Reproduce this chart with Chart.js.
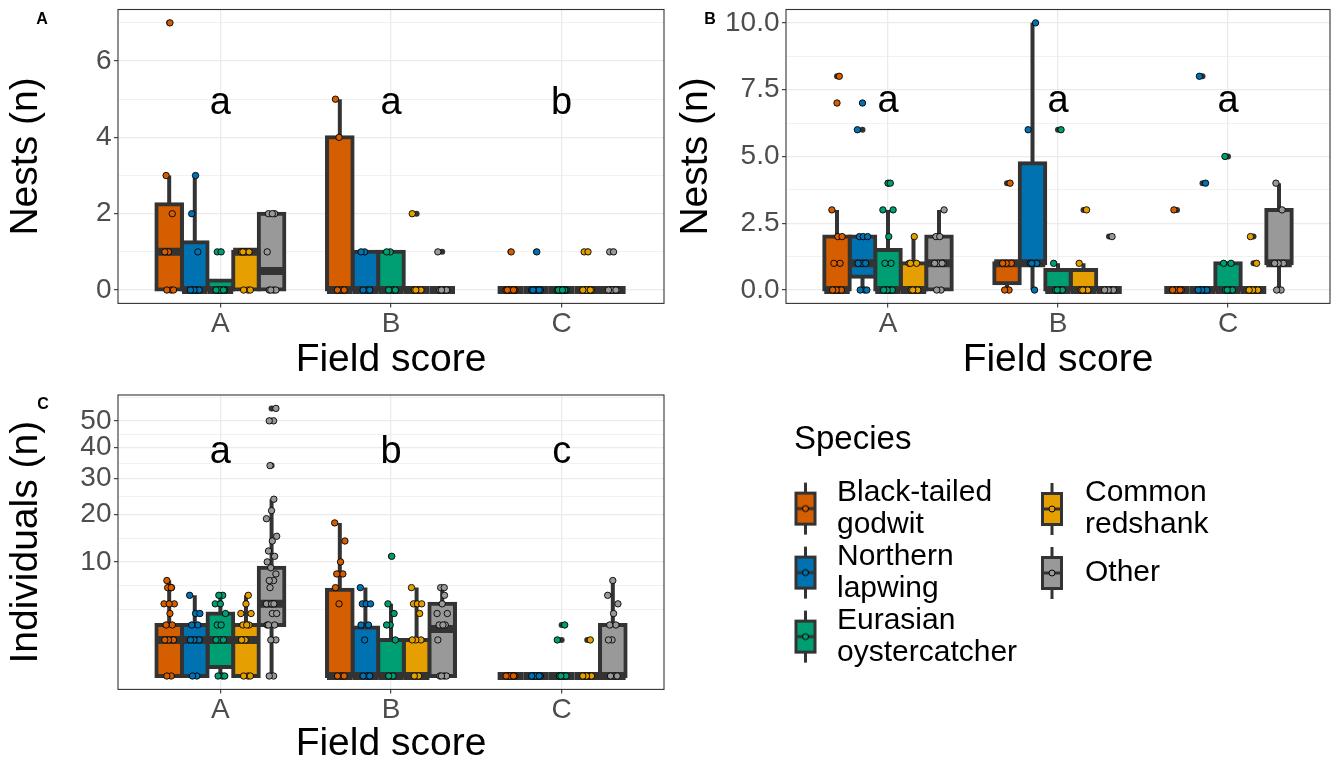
<!DOCTYPE html>
<html><head><meta charset="utf-8">
<script src="https://cdn.jsdelivr.net/npm/chart.js@4.4.1/dist/chart.umd.min.js"></script>
<style>
html,body{margin:0;padding:0;background:#fff;overflow:hidden;width:1338px;height:764px;position:relative;}
canvas{position:absolute;}
</style></head><body>
<canvas id="pA" style="left:0;top:0" width="670" height="380"></canvas>
<canvas id="pB" style="left:670px;top:0" width="668" height="380"></canvas>
<canvas id="pC" style="left:0;top:380px" width="670" height="384"></canvas>
<canvas id="lg1" style="left:794px;top:423px" width="560" height="262"></canvas>
<canvas id="lg2" style="left:1026px;top:462px" width="560" height="220"></canvas>
<script>
// ---------------- categories ----------------
const FIELDS = ['A', 'B', 'C'];
const SPECIES = ['Black-tailed godwit', 'Northern lapwing', 'Eurasian oystercatcher', 'Common redshank', 'Other'];
const COLORS = ['#D55E00', '#0072B2', '#009E73', '#E69F00', '#999999'];

// ---------------- Panel A: Nests (n) ----------------
// observed values per field score (A, B, C)
const nestsAGodwit   = [[0,0,0,1,1,2,3,7], [0,0,0,4,5], [0,0,0,0,0,0,0,1]];
const nestsALapwing  = [[0,0,0,0,0,1,2,3], [0,0,0,1,1], [0,0,0,0,0,0,0,1]];
const nestsAOyster   = [[0,0,0,0,0,0,1,1], [0,0,0,1,1], [0,0,0,0,0,0,0,0]];
const nestsARedshank = [[0,0,0,1,1,1,1], [0,0,0,0,2], [0,0,0,0,0,0,1,1]];
const nestsAOther    = [[0,0,0,0,1,2,2,2], [0,0,0,0,1], [0,0,0,0,0,0,1,1]];
// box statistics [lower whisker, Q1, median, Q3, upper whisker]
const nestsAGodwitBox   = [[0,0,1,2.25,3], [0,0,0,4,5], [0,0,0,0,0]];
const nestsALapwingBox  = [[0,0,0,1.25,3], [0,0,0,1,1], [0,0,0,0,0]];
const nestsAOysterBox   = [[0,0,0,0.25,0.25], [0,0,0,1,1], [0,0,0,0,0]];
const nestsARedshankBox = [[0,0,1,1,1], [0,0,0,0,0], [0,0,0,0,0]];
const nestsAOtherBox    = [[0,0,0.5,2,2], [0,0,0,0,0], [0,0,0,0,0]];
const nestsABreaks = [0, 2, 4, 6];
const nestsALetters = ['a', 'a', 'b'];

// ---------------- Panel B: Nests (n) ----------------
const nestsBGodwit   = [[0,0,0,0,0,1,1,2,2,3,7,8], [0,0,1,1,1,4], [0,0,0,0,0,0,3]];
const nestsBLapwing  = [[0,0,0,1,1,1,2,2,2,6,7], [0,1,1,1,6,10], [0,0,0,0,0,4,8]];
const nestsBOyster   = [[0,0,0,0,0,1,1,2,3,3,4,4], [0,0,0,0,1,6], [0,0,0,0,1,1,5]];
const nestsBRedshank = [[0,0,0,0,1,1,1,2], [0,0,0,0,1,3], [0,0,0,0,0,1,2]];
const nestsBOther    = [[0,0,1,1,1,1,2,2,3], [0,0,0,0,0,2], [0,0,1,1,1,3,4]];
const nestsBGodwitBox   = [[0,0,0,2,3], [0,0.25,1,1,1], [0,0,0,0,0]];
const nestsBLapwingBox  = [[0,0.5,1,2,2], [0,1,1,4.75,10], [0,0,0,0,0]];
const nestsBOysterBox   = [[0,0,0,1.5,3], [0,0,0,0.75,1], [0,0,0,1,1]];
const nestsBRedshankBox = [[0,0,0,1,2], [0,0,0,0.75,1], [0,0,0,0,0]];
const nestsBOtherBox    = [[0,0,1,2,3], [0,0,0,0,0], [0,1,1,3,4]];
const nestsBBreaks = [0, 2.5, 5, 7.5, 10];
const nestsBLetters = ['a', 'a', 'a'];

// ---------------- Panel C: Individuals (n), square-root axis ----------------
const indGodwit   = [[0,0,1,1,1,2,2,3,4,4,4,6,6,6,7], [0,0,0,4,6,8,8,10,14,18], [0,0,0,0,0,0]];
const indLapwing  = [[0,0,1,1,1,2,2,3,3,5], [0,0,0,1,2,2,4,4,4,6], [0,0,0,0,0,0]];
const indOyster   = [[0,0,0,1,1,1,2,2,3,4,4,5,5], [0,0,1,2,2,3,4,11], [0,0,0,0,1,2]];
const indRedshank = [[0,0,0,1,1,2,2,2,3,3,4,5], [0,0,1,1,1,3,4,4,4,6], [0,0,0,0,0,1]];
const indOther    = [[0,0,1,1,2,2,2,3,3,4,4,4,6,7,7,8,9,10,11,12,14,15,19,21,24,34,50,50,55],
                     [0,0,0,0,1,2,2,2,3,3,4,5,6,6], [0,0,0,1,1,2,2,3,4,5,7]];
const indGodwitBox   = [[0,0,1,2,7], [0,0,0,5.7,18], [0,0,0,0,0]];
const indLapwingBox  = [[0,0,1,2,5], [0,0,0,1.8,6], [0,0,0,0,0]];
const indOysterBox   = [[0,0.0625,1,3,5], [0,0,0,1,4], [0,0,0,0,0]];
const indRedshankBox = [[0,0,1,2,5], [0,0,0,1,6], [0,0,0,0,0]];
const indOtherBox    = [[0,2,4,9,24], [0,0,1.7,4,6], [0,0,0,2,7]];
const indBreaks = [10, 20, 30, 40, 50];
const indLetters = ['a', 'b', 'c'];

// ---------------- layout constants ----------------
const FONT = "'Liberation Sans', Arial, Helvetica, sans-serif";
Chart.defaults.font.family = FONT;
const DODGE = [-0.3, -0.15, 0, 0.15, 0.3];
const BOXW = 0.15;
const JIT = [0.08, -0.09, 0.17, -0.03, -0.17, 0.12, -0.12, 0.03, 0.2, -0.2, 0.0, 0.09, -0.06];

// square-root transformed scale
const tSqrt = v => v < 0 ? -Math.sqrt(-v) : Math.sqrt(v);
const tSqrtInv = t => t < 0 ? -t * t : t * t;
class SqrtScale extends Chart.LinearScale {
  configure() {
    super.configure();
    this._t0 = tSqrt(this.min);
    this._tr = tSqrt(this.max) - this._t0;
  }
  getPixelForValue(v) {
    if (v === null || v === undefined || isNaN(v)) return NaN;
    return this.getPixelForDecimal((tSqrt(v) - this._t0) / this._tr);
  }
  getValueForPixel(p) {
    return tSqrtInv(this._t0 + this.getDecimalForPixel(p) * this._tr);
  }
}
SqrtScale.id = 'sqrt';
SqrtScale.defaults = Chart.LinearScale.defaults;
Chart.register(SqrtScale);

const panelDeco = {
  id: 'panelDeco',
  afterDatasetsDraw(chart, args, o) {
    const {ctx, chartArea: a, scales: {x, y}} = chart;
    ctx.save();
    ctx.fillStyle = '#000';
    ctx.textAlign = 'center';
    ctx.textBaseline = 'middle';
    ctx.font = '38px ' + FONT;
    o.letters.forEach((L, i) => ctx.fillText(L, x.getPixelForValue(i + 1), y.getPixelForValue(o.letterY)));
    ctx.strokeStyle = '#333333';
    ctx.lineWidth = 1.1;
    ctx.strokeRect(a.left, a.top, a.right - a.left, a.bottom - a.top);
    ctx.font = 'bold 16px ' + FONT;
    ctx.fillText(o.tag, o.tagX, o.tagY);
    ctx.restore();
  }
};

function buildPanel(id, P) {
  const t = P.sqrt ? tSqrt : (v => v);
  const tinv = P.sqrt ? tSqrtInv : (v => v);
  const all = P.points.flat(2);
  const dmin = Math.min(...all), dmax = Math.max(...all);
  const R = t(dmax) - t(dmin);
  const tMin = t(dmin) - 0.05 * R, tMax = t(dmax) + 0.05 * R;
  const yMin = tinv(tMin), yMax = tinv(tMax);
  // ggplot-style minor breaks (midpoints in transformed space)
  const bt = P.breaks.map(t);
  const bd = bt[1] - bt[0];
  const ext = bt.slice();
  if (tMin < bt[0]) ext.unshift(bt[0] - bd);
  if (tMax > bt[bt.length - 1]) ext.push(bt[bt.length - 1] + bd);
  const minorT = [];
  for (let i = 0; i < ext.length - 1; i++) minorT.push(ext[i], (ext[i] + ext[i + 1]) / 2);
  minorT.push(ext[ext.length - 1]);
  const minors = minorT.filter(m => m >= tMin && m <= tMax && !bt.some(b => Math.abs(b - m) < 1e-9)).map(tinv);
  const isMajor = v => P.breaks.some(b => Math.abs(b - v) < 1e-9);
  const yTicks = P.breaks.concat(minors).sort((a, b) => a - b);

  const datasets = [];
  const outl = [];
  SPECIES.forEach((name, s) => {
    const whisk = [], med = [], boxes = [], pts = [];
    P.boxes[s].forEach((b, f) => {
      const [lo, q1, m, q3, hi] = b;
      const cx = f + 1 + DODGE[s];
      if (hi > q3) whisk.push({x: cx, y: q3}, {x: cx, y: hi}, {x: cx, y: null});
      if (lo < q1) whisk.push({x: cx, y: q1}, {x: cx, y: lo}, {x: cx, y: null});
      med.push({x: cx - BOXW / 2, y: m}, {x: cx + BOXW / 2, y: m}, {x: cx, y: null});
      boxes.push({x: cx, y: [q1, q3]});
      P.points[s][f].forEach((v, i) => {
        pts.push({x: cx + JIT[i % JIT.length] * BOXW, y: v});
        if (v > hi || v < lo) outl.push({x: cx, y: v});
      });
    });
    datasets.push({type: 'line', label: name + ' whiskers', data: whisk, borderColor: '#333333', borderWidth: 4,
      pointRadius: 0, fill: false, spanGaps: false, tension: 0, borderCapStyle: 'butt', order: 5});
    datasets.push({type: 'bar', label: name, data: boxes, backgroundColor: COLORS[s], borderColor: '#333333',
      borderWidth: 4, borderSkipped: false, inflateAmount: 2, grouped: false, barPercentage: 1,
      categoryPercentage: 1, order: 4});
    datasets.push({type: 'line', label: name + ' median', data: med, borderColor: '#333333', borderWidth: 8,
      pointRadius: 0, fill: false, spanGaps: false, tension: 0, borderCapStyle: 'butt', order: 3});
    datasets.push({type: 'scatter', label: name + ' obs', data: pts, backgroundColor: COLORS[s],
      borderColor: '#000000', borderWidth: 0.9, pointRadius: 3.2, order: 1});
  });
  datasets.push({type: 'scatter', label: 'outliers', data: outl, backgroundColor: '#333333',
    borderColor: '#333333', borderWidth: 0, pointRadius: 3, order: 2});

  const zeroPad = s => { s.paddingTop = 0; s.paddingBottom = 0; s.paddingLeft = 0; s.paddingRight = 0; };
  const tickFont = {size: 28, family: FONT, lineHeight: 1};
  const titleFont = {size: 39, family: FONT, lineHeight: 1};

  return new Chart(document.getElementById(id), {
    type: 'bar',
    data: {datasets},
    plugins: [panelDeco],
    options: {
      responsive: false, animation: false, events: [],
      layout: {padding: P.padding, autoPadding: false},
      plugins: {
        legend: {display: false}, tooltip: {enabled: false},
        panelDeco: {letters: P.letters, letterY: P.letterY, tag: P.tag, tagX: P.tagX, tagY: P.tagY}
      },
      scales: {
        x: {
          type: 'linear', min: 0.4, max: 3.6, offset: false, bounds: 'data',
          afterBuildTicks: s => { s.ticks = FIELDS.map((f, i) => ({value: i + 1})); },
          afterFit: s => { s.height = P.xHeight; zeroPad(s); },
          ticks: {callback: v => FIELDS[Math.round(v) - 1] || '', font: tickFont, color: '#4D4D4D',
            padding: 3, autoSkip: false, maxRotation: 0},
          grid: {color: '#EBEBEB', lineWidth: 1.3, tickColor: '#333333', tickLength: 4, tickWidth: 1.1,
            offset: false, drawTicks: true},
          border: {display: false},
          title: {display: true, text: 'Field score', font: titleFont, color: '#000',
            padding: {top: 0, bottom: P.xTitlePad}}
        },
        y: {
          type: P.sqrt ? 'sqrt' : 'linear', min: yMin, max: yMax, bounds: 'data', beginAtZero: false,
          afterBuildTicks: s => { s.ticks = yTicks.map(v => ({value: v})); },
          afterFit: s => { s.width = P.yWidth; zeroPad(s); },
          ticks: {callback: v => isMajor(v) ? P.fmt(v) : '', font: tickFont, color: '#4D4D4D',
            padding: 2.5, autoSkip: false},
          grid: {
            color: '#EBEBEB',
            lineWidth: c => (c.tick && isMajor(c.tick.value)) ? 1.3 : 0.7,
            tickColor: c => (c.tick && isMajor(c.tick.value)) ? '#333333' : 'rgba(0,0,0,0)',
            tickLength: 4, tickWidth: 1.1, drawTicks: true
          },
          border: {display: false},
          title: {display: true, text: P.yTitle, font: titleFont, color: '#000',
            padding: {top: P.yTitlePad, bottom: 0}}
        }
      }
    }
  });
}

buildPanel('pA', {
  points: [nestsAGodwit, nestsALapwing, nestsAOyster, nestsARedshank, nestsAOther],
  boxes: [nestsAGodwitBox, nestsALapwingBox, nestsAOysterBox, nestsARedshankBox, nestsAOtherBox],
  breaks: nestsABreaks, fmt: v => String(v), sqrt: false,
  letters: nestsALetters, letterY: 4.88, tag: 'A', tagX: 42, tagY: 20,
  yTitle: 'Nests (n)', padding: {top: 9.5, right: 6, bottom: 0, left: 0},
  yWidth: 118, xHeight: 76.6, xTitlePad: 0, yTitlePad: 6.5
});
buildPanel('pB', {
  points: [nestsBGodwit, nestsBLapwing, nestsBOyster, nestsBRedshank, nestsBOther],
  boxes: [nestsBGodwitBox, nestsBLapwingBox, nestsBOysterBox, nestsBRedshankBox, nestsBOtherBox],
  breaks: nestsBBreaks, fmt: v => v.toFixed(1), sqrt: false,
  letters: nestsBLetters, letterY: 7.05, tag: 'B', tagX: 40, tagY: 20,
  yTitle: 'Nests (n)', padding: {top: 9.5, right: 8, bottom: 0, left: 0},
  yWidth: 116, xHeight: 76.6, xTitlePad: 0.5, yTitlePad: 6.5
});
buildPanel('pC', {
  points: [indGodwit, indLapwing, indOyster, indRedshank, indOther],
  boxes: [indGodwitBox, indLapwingBox, indOysterBox, indRedshankBox, indOtherBox],
  breaks: indBreaks, fmt: v => String(v), sqrt: true,
  letters: indLetters, letterY: 38.5, tag: 'C', tagX: 43, tagY: 25,
  yTitle: 'Individuals (n)', padding: {top: 15, right: 6, bottom: 0, left: 0},
  yWidth: 118, xHeight: 74.6, xTitlePad: 0, yTitlePad: 6.5
});

// ---------------- legend ----------------
function makeKey(color, dx, dy) {
  const c = document.createElement('canvas');
  c.width = 64; c.height = 120;
  const g = c.getContext('2d');
  const cx = 32 + dx, cy = 60 + dy;
  g.strokeStyle = '#333333'; g.lineWidth = 3;
  g.beginPath(); g.moveTo(cx, cy - 26); g.lineTo(cx, cy + 26); g.stroke();
  g.fillStyle = color; g.fillRect(cx - 9.5, cy - 15.5, 19, 31);
  g.strokeRect(cx - 9.5, cy - 15.5, 19, 31);
  g.beginPath(); g.moveTo(cx - 9.5, cy); g.lineTo(cx + 9.5, cy); g.stroke();
  g.beginPath(); g.arc(cx, cy, 3, 0, Math.PI * 2); g.fillStyle = color; g.fill();
  g.lineWidth = 1; g.strokeStyle = '#000'; g.stroke();
  return c;
}
function buildLegend(id, idx, title, pad, dx) {
  return new Chart(document.getElementById(id), {
    type: 'pie',
    data: {labels: [], datasets: []},
    options: {
      responsive: false, animation: false, events: [],
      layout: {padding: 0},
      plugins: {
        tooltip: {enabled: false},
        legend: {
          display: true, position: 'left', align: 'start',
          title: {display: !!title, text: title || '', position: 'start', color: '#000',
            font: {size: 33, family: FONT, lineHeight: 1.2}, padding: {top: 0, bottom: 15}},
          labels: {
            usePointStyle: true, pointStyleWidth: 28, padding: pad, color: '#000', textAlign: 'left',
            font: {size: 30, family: FONT, lineHeight: 32 / 30},
            generateLabels: () => idx.map(i => {
              const parts = SPECIES[i].split(' ');
              const text = parts.length > 1 ? parts : parts[0];
              return {text, fillStyle: COLORS[i], strokeStyle: '#333333', lineWidth: 0, hidden: false,
                fontColor: '#000', textAlign: 'left',
                pointStyle: makeKey(COLORS[i], dx, parts.length > 1 ? 16 : 0), index: i};
            })
          }
        }
      }
    }
  });
}
buildLegend('lg1', [0, 1, 2], 'Species', 0, -2.5);
buildLegend('lg2', [3, 4], null, 16, -4);
</script></body></html>
